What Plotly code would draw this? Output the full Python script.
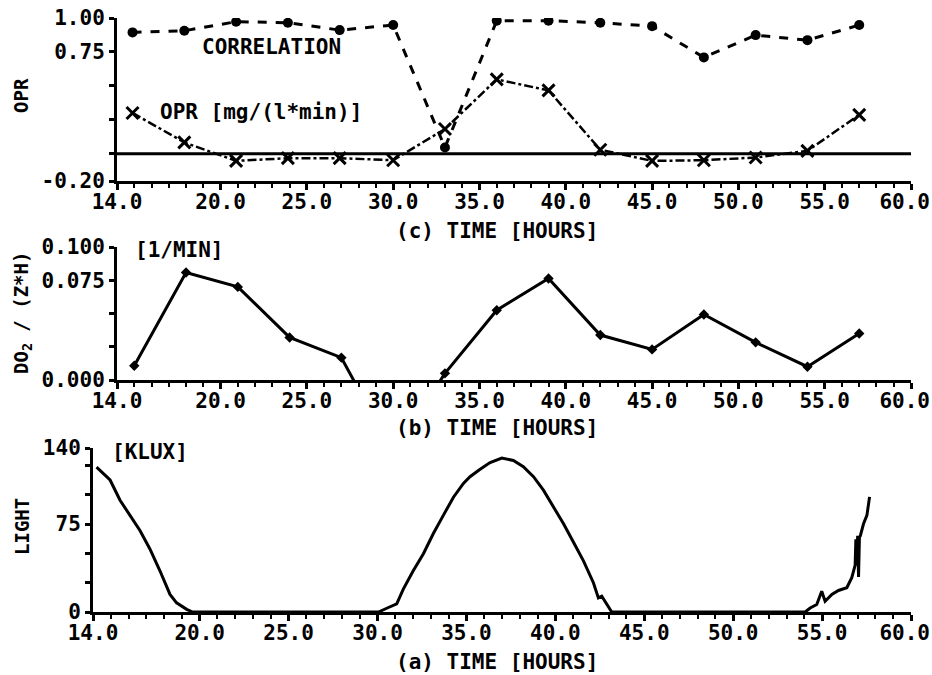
import plotly.graph_objects as go

# ---- data ----
t_samples = [14.9, 17.9, 20.9, 23.9, 26.9, 30.0, 33.0, 36.0, 39.0, 42.0, 45.0, 48.0, 51.0, 54.0, 57.0]
correlation = [0.894, 0.906, 0.973, 0.965, 0.911, 0.948, 0.047, 0.98, 0.98, 0.965, 0.94, 0.71, 0.874, 0.837, 0.948]
opr = [0.301, 0.084, -0.052, -0.032, -0.032, -0.047, 0.183, 0.548, 0.467, 0.03, -0.052, -0.047, -0.027, 0.022, 0.287]

t_do2 = [15.0, 18.0, 21.0, 24.0, 27.0, 30.0, 33.0, 36.0, 39.0, 42.0, 45.0, 48.0, 51.0, 54.0, 57.0]
do2 = [0.0107, 0.0808, 0.070, 0.032, 0.0168, -0.055, 0.005, 0.0525, 0.0763, 0.0338, 0.023, 0.0493, 0.0283, 0.010, 0.035]

t_light = [14.2, 14.96, 15.52, 16.08, 16.64, 17.2, 17.77, 18.33, 18.7, 19.27, 19.6, 25.0, 30.05, 30.52, 31.08,
           31.45, 32.0, 32.58, 33.14, 33.7, 34.27, 34.83, 35.2, 35.77, 36.33, 36.99, 37.64, 38.2, 38.77,
           39.33, 39.9, 40.46, 41.02, 41.58, 42.14, 42.42, 42.61, 42.89, 43.17, 50.0, 54.05, 54.33, 54.7,
           54.98, 55.17, 55.55, 55.92, 56.39, 56.67, 56.86, 56.9, 56.95, 57.0, 57.05, 57.1, 57.15, 57.33,
           57.52, 57.67]
light = [123.6, 112.7, 95.4, 82.5, 69.6, 53.8, 35.0, 15.0, 7.8, 2.3, 0, 0, 0, 3.2, 7.0,
         19.6, 35.0, 49.7, 67.0, 82.5, 98.0, 109.8, 115.5, 121.9, 127.6, 131.4, 129.3, 124.0, 115.5,
         104.0, 89.7, 75.3, 59.5, 43.7, 25.0, 12.0, 13.5, 6.4, 0, 0, 0, 3.4, 6.4,
         17.8, 9.2, 15.0, 18.4, 20.7, 29.3, 40.0, 62.0, 40.0, 65.0, 30.0, 64.0, 65.0, 75.3,
         82.5, 98.3]

x_tickvals = [14, 20, 25, 30, 35, 40, 45, 50, 55, 60]
x_ticktext = ["14.0", "20.0", "25.0", "30.0", "35.0", "40.0", "45.0", "50.0", "55.0", "60.0&nbsp;"]

W, H = 932, 675
def px_x(a, b):
    return [a / W, b / W]
def px_y(top, bottom):
    return [1 - bottom / H, 1 - top / H]

fig = go.Figure()

# top panel (c)
fig.add_trace(go.Scatter(x=t_samples, y=correlation, mode="lines+markers",
                         line=dict(color="black", width=3, dash="dash"),
                         marker=dict(symbol="circle", size=10, color="black"),
                         xaxis="x", yaxis="y", showlegend=False))
fig.add_trace(go.Scatter(x=t_samples, y=opr, mode="lines+markers",
                         line=dict(color="black", width=2.5, dash="dashdot"),
                         marker=dict(symbol="x-thin", size=12, line=dict(color="black", width=3)),
                         xaxis="x", yaxis="y", showlegend=False))
# middle panel (b)
fig.add_trace(go.Scatter(x=t_do2, y=do2, mode="lines+markers",
                         line=dict(color="black", width=3),
                         marker=dict(symbol="diamond", size=8, color="black"),
                         xaxis="x2", yaxis="y2", showlegend=False))
# bottom panel (a)
fig.add_trace(go.Scatter(x=t_light, y=light, mode="lines",
                         line=dict(color="black", width=3),
                         xaxis="x3", yaxis="y3", showlegend=False))

fig.add_shape(type="line", xref="x", yref="y", x0=14, x1=60, y0=0, y1=0,
              line=dict(color="black", width=3))

tickfont = dict(family="DejaVu Sans Mono", size=21, color="black", weight="bold")

def xaxis_def(domain, anchor):
    return dict(domain=domain, anchor=anchor, range=[14, 60], tickvals=x_tickvals, ticktext=x_ticktext,
                showline=True, linecolor="black", linewidth=3, ticks="outside", ticklen=6, tickwidth=3,
                tickcolor="black", showgrid=False, zeroline=False, tickfont=tickfont, automargin=False,
                ticklabeloverflow="allow", ticklabelstandoff=-6,
                minor=dict(dtick=1, tick0=14, ticks="outside", ticklen=4, tickwidth=2, tickcolor="black",
                           showgrid=False))

def yaxis_def(domain, anchor, rng, vals, texts):
    return dict(domain=domain, anchor=anchor, range=rng, tickvals=vals, ticktext=texts,
                showline=True, linecolor="black", linewidth=3, ticks="outside", ticklen=5, tickwidth=3,
                tickcolor="black", showgrid=False, zeroline=False, tickfont=tickfont, automargin=False)

fig.update_layout(
    width=W, height=H, autosize=False,
    margin=dict(l=0, r=0, t=0, b=0, pad=0),
    paper_bgcolor="white", plot_bgcolor="white",
    font=dict(family="DejaVu Sans Mono", size=21, color="black", weight="bold"),
    xaxis=xaxis_def(px_x(117, 911), "y"),
    yaxis=yaxis_def(px_y(18, 181), "x", [-0.2, 1.0],
                    [-0.2, 0, 0.25, 0.5, 0.75, 1.0], ["-0.20", "", "", "", "0.75", "1.00"]),
    xaxis2=xaxis_def(px_x(117, 911), "y2"),
    yaxis2=yaxis_def(px_y(247, 380), "x2", [0, 0.1],
                     [0, 0.025, 0.05, 0.075, 0.1], ["0.000", "", "", "0.075", "0.100"]),
    xaxis3=xaxis_def(px_x(93, 911), "y3"),
    yaxis3=yaxis_def(px_y(448, 612), "x3", [0, 140],
                     [0, 25, 50, 75, 100, 125, 140], ["0", "", "", "75", "", "", "140"]),
)

def ann(text, x, y, size=21, angle=0, xanchor="center"):
    fig.add_annotation(text=text, xref="paper", yref="paper", x=x / W, y=1 - y / H,
                       showarrow=False, textangle=angle, xanchor=xanchor, yanchor="middle",
                       font=dict(family="DejaVu Sans Mono", size=size, color="black", weight="bold"))

ann("(c) TIME [HOURS]", 497, 231)
ann("(b) TIME [HOURS]", 497, 428)
ann("(a) TIME [HOURS]", 497, 662)
ann("CORRELATION", 200, 47, xanchor="left")
ann("OPR [mg/(l*min)]", 158, 112, xanchor="left")
ann("[1/MIN]", 133, 250, xanchor="left")
ann("[KLUX]", 110, 452, xanchor="left")
ann("OPR", 21, 96, size=19, angle=-90)
ann("DO<sub>2</sub> / (Z*H)", 22, 313, size=19, angle=-90)
ann("LIGHT", 22, 527, size=19, angle=-90)

fig.write_html("out.html")
